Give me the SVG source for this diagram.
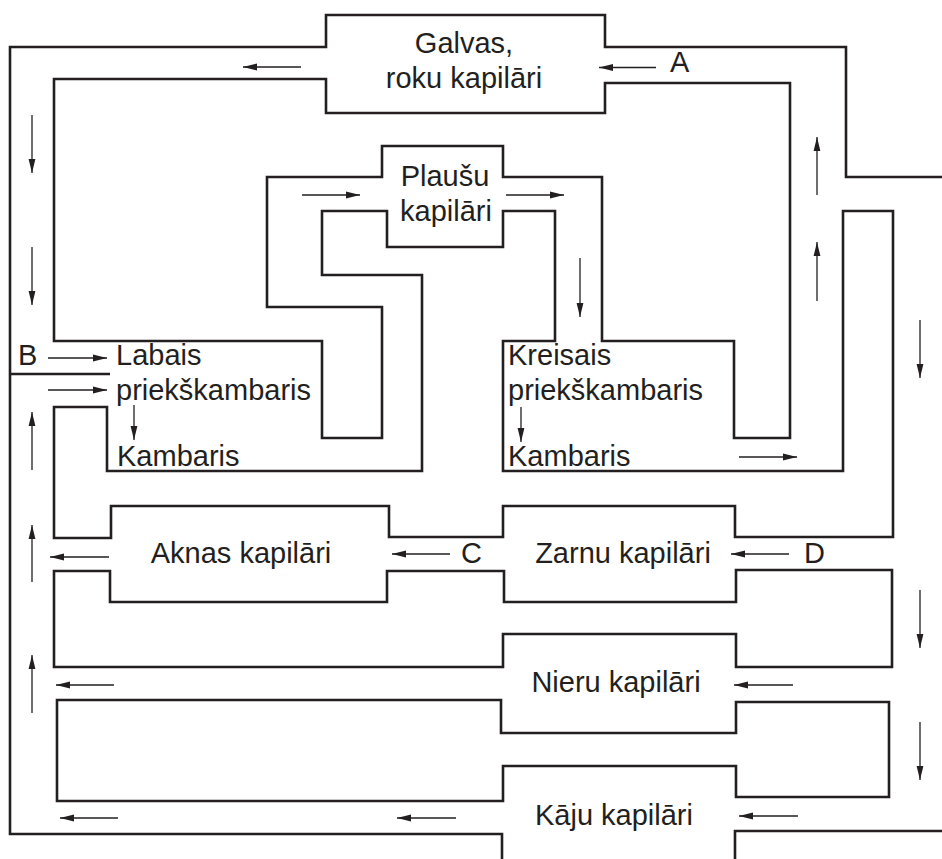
<svg xmlns="http://www.w3.org/2000/svg" width="942" height="859" viewBox="0 0 942 859">
  <style>
    .wall { fill: none; stroke: #231f20; stroke-width: 2.6; stroke-linejoin: miter; stroke-linecap: butt; }
    .flow { fill: none; stroke: #231f20; stroke-width: 1.3; marker-end: url(#head); }
    text { font-family: "Liberation Sans", Arial, sans-serif; font-size: 29px; fill: #231f20; }
    .mid { text-anchor: middle; }
  </style>
  <defs>
    <marker id="head" markerUnits="userSpaceOnUse" markerWidth="14" markerHeight="8" refX="14" refY="4" orient="auto">
      <path d="M0,0.6 L14,4 L0,7.4 Z" fill="#231f20"/>
    </marker>
  </defs>
  <rect width="942" height="859" fill="#ffffff"/>

  <!-- vessel walls -->
  <g id="walls">
    <!-- outer wall: body circuit from aorta round to vena cava -->
    <path class="wall" d="M942,177 H846 V47 H605 V15 H326 V47 H10 V834 H502 V859"/>
    <path class="wall" d="M10,374 H110"/>
    <path class="wall" d="M942,831 H735 V859"/>
    <!-- head/arms loop with the lung channel and ventricles -->
    <path class="wall" d="M54,79 H326 V113 H605 V83 H790 V438 H734 V341 H602 V177 H503 V146 H382 V177 H267 V307 H382 V438 H322 V341 H54 Z"/>
    <!-- lung return, heart chambers and liver/intestine upper walls -->
    <path class="wall" d="M387,247 V211 H322 V275 H422 V471 H107 V407 H54 V538 H111 V506 H389 V537 H503 V506 H735 V537 H893 V211 H843 V471 H503 V341 H555 V211 H503 V247 Z"/>
    <!-- liver/intestine lower walls and kidney upper walls -->
    <path class="wall" d="M54,571 H110 V602 H387 V571 H504 V602 H736 V570 H892 V667 H736 V634 H503 V667 H54 Z"/>
    <!-- kidney lower walls and leg upper walls -->
    <path class="wall" d="M57,700 H501 V733 H736 V702 H889 V797 H736 V766 H503 V801 H57 Z"/>
  </g>

  <!-- blood flow arrows -->
  <g id="connectors">
    <path class="flow" d="M301,67 H243"/>
    <path class="flow" d="M656,67.5 H599"/>
    <path class="flow" d="M32,115 V173"/>
    <path class="flow" d="M32,247 V305"/>
    <path class="flow" d="M302,195 H360"/>
    <path class="flow" d="M506,195 H564"/>
    <path class="flow" d="M580,258 V317"/>
    <path class="flow" d="M817,195 V137"/>
    <path class="flow" d="M817,301 V242"/>
    <path class="flow" d="M920,320 V378"/>
    <path class="flow" d="M48,358 H107"/>
    <path class="flow" d="M48,390 H107"/>
    <path class="flow" d="M134,405 V440"/>
    <path class="flow" d="M521,407 V442"/>
    <path class="flow" d="M739,457 H797"/>
    <path class="flow" d="M32,470 V412"/>
    <path class="flow" d="M32,582 V525"/>
    <path class="flow" d="M32,713 V655"/>
    <path class="flow" d="M109,557 H50"/>
    <path class="flow" d="M450,554 H392"/>
    <path class="flow" d="M789,554 H731"/>
    <path class="flow" d="M920,590 V648"/>
    <path class="flow" d="M920,722 V780"/>
    <path class="flow" d="M793,685 H734"/>
    <path class="flow" d="M114,685 H56"/>
    <path class="flow" d="M798,816 H739"/>
    <path class="flow" d="M118,818 H60"/>
    <path class="flow" d="M456,818 H397"/>
  </g>

  <g id="node-galvas">
    <text class="mid" x="464" y="53">Galvas,</text>
    <text class="mid" x="464" y="88">roku kapilāri</text>
  </g>
  <g id="node-plausu">
    <text class="mid" x="445" y="186">Plaušu</text>
    <text class="mid" x="446" y="221">kapilāri</text>
  </g>
  <g id="node-labais">
    <text x="116" y="365">Labais</text>
    <text x="116" y="400">priekškambaris</text>
    <text x="117" y="466">Kambaris</text>
  </g>
  <g id="node-kreisais">
    <text x="508" y="365">Kreisais</text>
    <text x="508" y="400">priekškambaris</text>
    <text x="508" y="466">Kambaris</text>
  </g>
  <g id="node-aknas">
    <text class="mid" x="241" y="563">Aknas kapilāri</text>
  </g>
  <g id="node-zarnu">
    <text class="mid" x="623" y="563">Zarnu kapilāri</text>
  </g>
  <g id="node-nieru">
    <text class="mid" x="616" y="692">Nieru kapilāri</text>
  </g>
  <g id="node-kaju">
    <text class="mid" x="614" y="825">Kāju kapilāri</text>
  </g>
  <g id="labels">
    <text x="670" y="72">A</text>
    <text x="18" y="365">B</text>
    <text x="461" y="563">C</text>
    <text x="804" y="563">D</text>
  </g>
</svg>
